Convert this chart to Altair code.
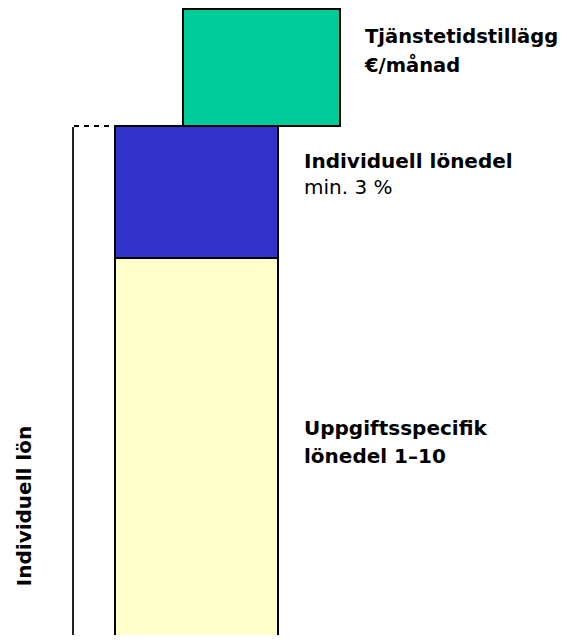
import altair as alt
import pandas as pd

# Stacked salary components (arbitrary units; bottom of view = 0)
segments = ["Uppgiftsspecifik lönedel 1–10", "Individuell lönedel", "Tjänstetidstillägg"]
seg_bottom = [-30, 377, 509]
seg_top = [377, 509, 626]
seg_left = [107, 107, 175]
seg_right = [270, 270, 332]
seg_colors = ["#FFFFCC", "#3333CC", "#00CC99"]

# Bracket marking "Individuell lön"
bracket_x = [65]
bracket_y0 = [-30]
bracket_y1 = [508]
dash_x0 = [66]
dash_x1 = [107]
dash_y = [509]

# Labels
top_text = ["Tjänstetidstillägg", "€/månad"]
top_x = [357, 357]
top_y = [592, 563]
bold_text = ["Individuell lönedel", "Uppgiftsspecifik", "lönedel 1–10"]
bold_x = [296, 296, 296]
bold_y = [467, 200, 172]
normal_text = ["min. 3 %"]
normal_x = [296]
normal_y = [441]
side_text = ["Individuell lön"]
side_x = [22.5]
side_y = [129]

W, H = 551, 627
xs = alt.Scale(domain=[0, W], nice=False, zero=False)
ys = alt.Scale(domain=[0, H], nice=False, zero=False)

seg_df = pd.DataFrame({"seg": segments, "y0": seg_bottom, "y1": seg_top,
                       "x0": seg_left, "x1": seg_right})
bars = alt.Chart(seg_df).mark_rect(stroke="black", strokeWidth=2, clip=True).encode(
    x=alt.X("x0:Q", scale=xs, axis=None), x2="x1:Q",
    y=alt.Y("y0:Q", scale=ys, axis=None), y2="y1:Q",
    color=alt.Color("seg:N", scale=alt.Scale(domain=segments, range=seg_colors), legend=None),
)

vline = alt.Chart(pd.DataFrame({"x": bracket_x, "y0": bracket_y0, "y1": bracket_y1})).mark_rule(
    color="#222222", strokeWidth=2, clip=True
).encode(
    x=alt.X("x:Q", scale=xs, axis=None),
    y=alt.Y("y0:Q", scale=ys, axis=None), y2="y1:Q",
)

dline = alt.Chart(pd.DataFrame({"x0": dash_x0, "x1": dash_x1, "y": dash_y})).mark_rule(
    color="black", strokeWidth=2, strokeDash=[5, 5]
).encode(
    x=alt.X("x0:Q", scale=xs, axis=None), x2="x1:Q",
    y=alt.Y("y:Q", scale=ys, axis=None),
)


def text_layer(texts, xv, yv, weight, size):
    return alt.Chart(pd.DataFrame({"t": texts, "x": xv, "y": yv})).mark_text(
        align="left", baseline="alphabetic", font="DejaVu Sans", fontSize=size,
        fontWeight=weight, color="black"
    ).encode(
        x=alt.X("x:Q", scale=xs, axis=None), y=alt.Y("y:Q", scale=ys, axis=None), text="t:N"
    )


top = text_layer(top_text, top_x, top_y, "bold", 19.5)
bold = text_layer(bold_text, bold_x, bold_y, "bold", 20)
normal = text_layer(normal_text, normal_x, normal_y, "normal", 20)

side = alt.Chart(pd.DataFrame({"t": side_text, "x": side_x, "y": side_y})).mark_text(
    align="center", baseline="alphabetic", font="DejaVu Sans", fontSize=20,
    fontWeight="bold", color="black", angle=270
).encode(
    x=alt.X("x:Q", scale=xs, axis=None), y=alt.Y("y:Q", scale=ys, axis=None), text="t:N"
)

chart = alt.layer(bars, vline, dline, top, bold, normal, side).properties(
    width=W, height=H, padding=0, autosize="none"
).configure_view(stroke=None)

chart.save("out.html", embed_options={"renderer": "svg", "actions": False})
